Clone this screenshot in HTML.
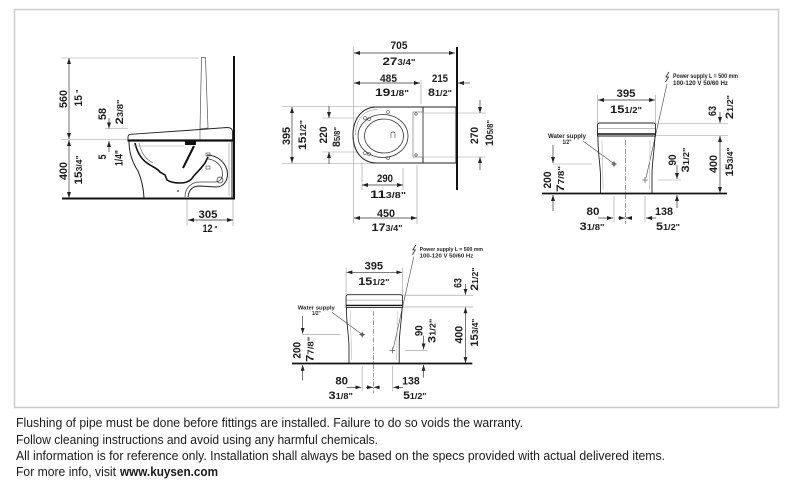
<!DOCTYPE html>
<html><head><meta charset="utf-8"><style>
html,body{margin:0;padding:0;background:#fff;}
svg{display:block;}
.e{stroke:#9a9a9a;stroke-width:0.6;fill:none}
.d{stroke:#333;stroke-width:0.7;fill:none;marker-start:url(#a);marker-end:url(#a)}
.de{stroke:#333;stroke-width:0.7;fill:none;marker-end:url(#a)}
.t{font-family:"Liberation Sans",Arial,sans-serif;font-weight:bold;font-size:11px;fill:#1c1c1c}
.s{font-family:"Liberation Sans",Arial,sans-serif;font-weight:bold;font-size:6px;fill:#222}
.b{font-family:"Liberation Sans",Arial,sans-serif;font-size:13px;fill:#1a1a1a}
</style></head><body>
<svg width="788" height="484" viewBox="0 0 788 484" xmlns="http://www.w3.org/2000/svg">
<defs>
<marker id="a" viewBox="0 0 6 4" refX="6" refY="2" markerWidth="6" markerHeight="4" markerUnits="userSpaceOnUse" orient="auto-start-reverse"><path d="M0,0L6,2L0,4z" fill="#222"/></marker>
</defs>
<rect x="14.5" y="9.5" width="764" height="398" fill="none" stroke="#cbcbcb" stroke-width="1.5"/>

<!-- ============ SIDE VIEW ============ -->
<path class="e" d="M61,58H199M61,139.5H128M187,199V226M233,199V226M102,139.5H128M105,128.5H128"/>
<path d="M201.5,57.5L205.5,57.5L208,128L200,129Z" fill="#fff" stroke="#555" stroke-width="0.7"/>
<path d="M128,140V137Q128,134.5 131,134.3L200,129.5L227,127.5Q232,127.5 232.5,131V140" fill="#fff" stroke="#222" stroke-width="0.9"/>
<path d="M200,129.5V139.5" stroke="#555" stroke-width="0.6"/>
<path d="M127.5,140.5H233.5" stroke="#111" stroke-width="2.2"/>
<path d="M129,141C129,152 132,162 138,171C141,178 143.5,187 144,198" fill="none" stroke="#222" stroke-width="1"/>
<path d="M232,141V198" stroke="#222" stroke-width="1"/>
<path d="M229,143V196" stroke="#999" stroke-width="0.6"/>
<path d="M135,143C137,152 141,160 150,165C155,168 158,169 160,172L165,175L167,180C170,182 175,183 180,183C185,183 190,182 193,177C196,173 200,170 205,163L208,157" fill="none" stroke="#111" stroke-width="1.6"/>
<path d="M139,143C141,152 145,159 153,163" stroke="#666" stroke-width="0.6" fill="none"/>
<rect x="185" y="141" width="11" height="4" fill="#111"/>
<path d="M194,146L189,156L183,168" stroke="#111" stroke-width="2" fill="none"/>
<path d="M207,155C215,155 224,160 227,170C229,180 224,187 216,187L200,186C193,186 189,189 188,197" fill="none" stroke="#222" stroke-width="1"/>
<path d="M207,159C213,159 220,163 222,170C224,178 220,182 215,182L200,182C191,182 185,188 185,197" fill="none" stroke="#444" stroke-width="0.8"/>
<rect x="206" y="153" width="4" height="3" fill="none" stroke="#444" stroke-width="0.6"/>
<rect x="206" y="166" width="4" height="3" fill="none" stroke="#444" stroke-width="0.6"/>
<circle cx="220" cy="180" r="3" fill="none" stroke="#333" stroke-width="0.7"/>
<circle cx="178" cy="191" r="1" fill="#555"/>
<path class="e" d="M133,146H184"/>
<path d="M62,198.5H235" stroke="#111" stroke-width="2"/>
<path d="M234,56V199" stroke="#111" stroke-width="2"/>
<path class="d" d="M69,58V139"/>
<path class="d" d="M69,140V198"/>
<path class="de" d="M109,118V128.5"/>
<path class="de" d="M109,152V141"/>
<path class="d" d="M188,220H233"/>

<text class="t" transform="translate(63,99) rotate(-90)" y="4" text-anchor="middle" textLength="18" lengthAdjust="spacingAndGlyphs">560</text>
<text class="t" transform="translate(78,98) rotate(-90)" y="4" text-anchor="middle" textLength="17" lengthAdjust="spacingAndGlyphs">15<tspan font-size="8"> "</tspan></text>
<text class="t" transform="translate(63,171) rotate(-90)" y="4" text-anchor="middle" textLength="18" lengthAdjust="spacingAndGlyphs">400</text>
<text class="t" transform="translate(78,170) rotate(-90)" y="4" text-anchor="middle" textLength="29" lengthAdjust="spacingAndGlyphs">15<tspan font-size="8">3/4"</tspan></text>
<text class="t" transform="translate(102,114) rotate(-90)" y="4" text-anchor="middle" textLength="12" lengthAdjust="spacingAndGlyphs">58</text>
<text class="t" transform="translate(119,112) rotate(-90)" y="4" text-anchor="middle" textLength="25" lengthAdjust="spacingAndGlyphs">2<tspan font-size="8">3/8"</tspan></text>
<text class="t" transform="translate(102,157) rotate(-90)" y="4" text-anchor="middle" textLength="5" lengthAdjust="spacingAndGlyphs">5</text>
<text class="t" transform="translate(119,158) rotate(-90)" y="3.5" text-anchor="middle" font-size="9" textLength="16" lengthAdjust="spacingAndGlyphs">1/4"</text>
<text class="t" x="208" y="218" text-anchor="middle" textLength="19" lengthAdjust="spacingAndGlyphs">305</text>
<text class="t" x="210" y="232" text-anchor="middle" textLength="15" lengthAdjust="spacingAndGlyphs">12<tspan font-size="8"> "</tspan></text>

<!-- ============ TOP VIEW ============ -->
<path class="e" d="M353.5,47V223M421,80V104M282,106.5H375M282,163.5H375M322,118H372M322,152H372M455,113H486M455,157H486M362,163V190M403,168V190M417,165V224"/>
<path d="M423,107H376C361,107.5 353,120 353,135C353,150 361,162.5 376,163H423" fill="#fff" stroke="#222" stroke-width="1"/>
<path d="M355.5,135C355.5,121 363,109.5 377,109.5" fill="none" stroke="#777" stroke-width="0.5"/>
<rect x="423" y="107" width="33" height="56" fill="#fff" stroke="#222" stroke-width="1"/>
<path class="e" d="M423,113H455M423,157H455"/>
<rect x="413" y="112" width="10" height="45" fill="none" stroke="#666" stroke-width="0.6"/>
<ellipse cx="383" cy="136" rx="25" ry="21.5" fill="none" stroke="#333" stroke-width="0.8"/>
<ellipse cx="384" cy="136" rx="19.5" ry="17" fill="none" stroke="#333" stroke-width="0.8"/>
<g fill="none" stroke="#444" stroke-width="0.6">
<circle cx="388" cy="112" r="1.5"/><circle cx="388" cy="158" r="1.5"/>
<circle cx="365" cy="118" r="1.5"/><circle cx="369" cy="119" r="1.5"/>
<circle cx="365" cy="153" r="1.5"/><circle cx="369" cy="154" r="1.5"/>
<circle cx="416" cy="114" r="1.2"/><circle cx="416" cy="155" r="1.2"/>
<path d="M391,138V133Q393,131 395,133V138"/>
</g>
<path d="M457,47V190" stroke="#111" stroke-width="2"/>
<path class="d" d="M354,53H455"/>
<path class="d" d="M354,83H420"/>
<path class="de" d="M470,83H458"/>
<path class="d" d="M292,107V163"/>
<path class="de" d="M329,106V118"/>
<path class="de" d="M329,164V152"/>
<path class="de" d="M480,100V113"/>
<path class="de" d="M480,170V157"/>
<path class="d" d="M362,185H403"/>
<path class="d" d="M354,218H417"/>

<text class="t" x="399" y="49" text-anchor="middle" textLength="17" lengthAdjust="spacingAndGlyphs">705</text>
<text class="t" x="399" y="65" text-anchor="middle" textLength="33" lengthAdjust="spacingAndGlyphs">27<tspan font-size="8">3/4"</tspan></text>
<text class="t" x="388.5" y="82" text-anchor="middle" textLength="17" lengthAdjust="spacingAndGlyphs">485</text>
<text class="t" x="392" y="96" text-anchor="middle" textLength="34" lengthAdjust="spacingAndGlyphs">19<tspan font-size="8">1/8"</tspan></text>
<text class="t" x="440" y="82" text-anchor="middle" textLength="16" lengthAdjust="spacingAndGlyphs">215</text>
<text class="t" x="440" y="96" text-anchor="middle" textLength="24" lengthAdjust="spacingAndGlyphs">8<tspan font-size="8">1/2"</tspan></text>
<text class="t" x="385" y="182" text-anchor="middle" textLength="16" lengthAdjust="spacingAndGlyphs">290</text>
<text class="t" x="388" y="198" text-anchor="middle" textLength="36" lengthAdjust="spacingAndGlyphs">11<tspan font-size="8">3/8"</tspan></text>
<text class="t" x="386" y="217" text-anchor="middle" textLength="18" lengthAdjust="spacingAndGlyphs">450</text>
<text class="t" x="387" y="231" text-anchor="middle" textLength="31" lengthAdjust="spacingAndGlyphs">17<tspan font-size="8">3/4"</tspan></text>
<text class="t" transform="translate(286,136) rotate(-90)" y="4" text-anchor="middle" textLength="18" lengthAdjust="spacingAndGlyphs">395</text>
<text class="t" transform="translate(302,135) rotate(-90)" y="4" text-anchor="middle" textLength="30" lengthAdjust="spacingAndGlyphs">15<tspan font-size="8">1/2"</tspan></text>
<text class="t" transform="translate(323,135) rotate(-90)" y="4" text-anchor="middle" textLength="17" lengthAdjust="spacingAndGlyphs">220</text>
<text class="t" transform="translate(336,137) rotate(-90)" y="4" text-anchor="middle" textLength="20" lengthAdjust="spacingAndGlyphs">8<tspan font-size="8">5/8"</tspan></text>
<text class="t" transform="translate(474,135.5) rotate(-90)" y="4" text-anchor="middle" textLength="17" lengthAdjust="spacingAndGlyphs">270</text>
<text class="t" transform="translate(489,133) rotate(-90)" y="4" text-anchor="middle" textLength="26" lengthAdjust="spacingAndGlyphs">10<tspan font-size="8">5/8"</tspan></text>

<!-- ============ FRONT VIEW (right) ============ -->
<g>
<polyline points="669,72 666,77 668.5,77 665.5,82" fill="none" stroke="#222" stroke-width="0.8"/>
<text class="s" x="673" y="78" textLength="65" lengthAdjust="spacingAndGlyphs">Power supply L = 500 mm</text>
<text class="s" x="673" y="85" textLength="55" lengthAdjust="spacingAndGlyphs">100-120 V  50/60 Hz</text>
<path d="M667,84L646,178" stroke="#444" stroke-width="0.6"/>
<text class="s" x="567" y="138" text-anchor="middle" textLength="38" lengthAdjust="spacingAndGlyphs">Water supply</text>
<text class="s" x="567" y="144" text-anchor="middle" textLength="9" lengthAdjust="spacingAndGlyphs">1/2"</text>
<path d="M583,141L613,163" stroke="#444" stroke-width="0.6"/>
<path class="e" d="M597.5,95V123M655.5,95V123M553,164H592M658,180H681M656,123.5H728M656,135.5H728M614,196V222M645,196V222"/>
<path d="M597.5,136V125Q597.5,123 600,123H653Q655.5,123 655.5,125V136Z" fill="#fff" stroke="#222" stroke-width="0.9"/>
<path d="M598,128.5H655" stroke="#777" stroke-width="0.5"/>
<path d="M597.5,134H655.5" stroke="#111" stroke-width="1.4"/>
<path d="M598,136C597.5,150 600,162 600.5,175V193" fill="none" stroke="#222" stroke-width="0.9"/>
<path d="M655,136C654.5,150 652,162 652,175V193" fill="none" stroke="#222" stroke-width="0.9"/>
<path d="M602,140C602,160 603,170 603,190M650,140C650,160 649.5,170 649.5,190" fill="none" stroke="#aaa" stroke-width="0.5"/>
<path d="M625.5,140V224" stroke="#555" stroke-width="0.6" stroke-dasharray="5,1.5,1,1.5"/>
<path d="M611,164H617M614,161V167M642,180H648M645,177V183" stroke="#333" stroke-width="0.6"/>
<circle cx="614" cy="164" r="1.3" fill="none" stroke="#333" stroke-width="0.6"/>
<path d="M542,193.5H727" stroke="#111" stroke-width="1.8"/>
<path class="d" d="M598,100H655"/>
<path class="de" d="M553,145V163"/>
<path class="de" d="M553,211V195"/>
<path class="de" d="M677,165V179"/>
<path class="de" d="M677,208V195"/>
<path class="d" d="M720,136V193"/>
<path class="de" d="M720,112V123"/>
<path class="de" d="M598,218H613"/>
<path class="de" d="M632,218H626"/>
<path class="de" d="M618,218H625"/>
<path class="de" d="M656,218H646"/>
<text class="t" x="626" y="97" text-anchor="middle" textLength="19" lengthAdjust="spacingAndGlyphs">395</text>
<text class="t" x="626" y="113" text-anchor="middle" textLength="32" lengthAdjust="spacingAndGlyphs">15<tspan font-size="8">1/2"</tspan></text>
<text class="t" transform="translate(712,111) rotate(-90)" y="4" text-anchor="middle" textLength="10" lengthAdjust="spacingAndGlyphs">63</text>
<text class="t" transform="translate(729,107) rotate(-90)" y="4" text-anchor="middle" textLength="24" lengthAdjust="spacingAndGlyphs">2<tspan font-size="8">1/2"</tspan></text>
<text class="t" transform="translate(713,164) rotate(-90)" y="4" text-anchor="middle" textLength="18" lengthAdjust="spacingAndGlyphs">400</text>
<text class="t" transform="translate(729,162) rotate(-90)" y="4" text-anchor="middle" textLength="29" lengthAdjust="spacingAndGlyphs">15<tspan font-size="8">3/4"</tspan></text>
<text class="t" transform="translate(672,160) rotate(-90)" y="4" text-anchor="middle" textLength="11" lengthAdjust="spacingAndGlyphs">90</text>
<text class="t" transform="translate(685,160) rotate(-90)" y="4" text-anchor="middle" textLength="25" lengthAdjust="spacingAndGlyphs">3<tspan font-size="8">1/2"</tspan></text>
<text class="t" transform="translate(547,180) rotate(-90)" y="4" text-anchor="middle" textLength="17" lengthAdjust="spacingAndGlyphs">200</text>
<text class="t" transform="translate(560,179) rotate(-90)" y="4" text-anchor="middle" textLength="26" lengthAdjust="spacingAndGlyphs">7<tspan font-size="8">7/8"</tspan></text>
<text class="t" x="593" y="215" text-anchor="middle" textLength="13" lengthAdjust="spacingAndGlyphs">80</text>
<text class="t" x="592" y="230" text-anchor="middle" textLength="25" lengthAdjust="spacingAndGlyphs">3<tspan font-size="8">1/8"</tspan></text>
<text class="t" x="664" y="215" text-anchor="middle" textLength="18" lengthAdjust="spacingAndGlyphs">138</text>
<text class="t" x="668" y="230" text-anchor="middle" textLength="24" lengthAdjust="spacingAndGlyphs">5<tspan font-size="8">1/2"</tspan></text>
</g>

<!-- ============ FRONT VIEW (bottom) ============ -->
<g transform="matrix(0.975 0 0 0.975 -236.5 174.8)">
<polyline points="669,72 666,77 668.5,77 665.5,82" fill="none" stroke="#222" stroke-width="0.8"/>
<text class="s" x="673" y="78" textLength="65" lengthAdjust="spacingAndGlyphs">Power supply L = 500 mm</text>
<text class="s" x="673" y="85" textLength="55" lengthAdjust="spacingAndGlyphs">100-120 V  50/60 Hz</text>
<path d="M667,84L646,178" stroke="#444" stroke-width="0.6"/>
<text class="s" x="567" y="138" text-anchor="middle" textLength="38" lengthAdjust="spacingAndGlyphs">Water supply</text>
<text class="s" x="567" y="144" text-anchor="middle" textLength="9" lengthAdjust="spacingAndGlyphs">1/2"</text>
<path d="M583,141L613,163" stroke="#444" stroke-width="0.6"/>
<path class="e" d="M597.5,95V123M655.5,95V123M553,164H592M658,180H681M656,123.5H728M656,135.5H728M614,196V222M645,196V222"/>
<path d="M597.5,136V125Q597.5,123 600,123H653Q655.5,123 655.5,125V136Z" fill="#fff" stroke="#222" stroke-width="0.9"/>
<path d="M598,128.5H655" stroke="#777" stroke-width="0.5"/>
<path d="M597.5,134H655.5" stroke="#111" stroke-width="1.4"/>
<path d="M598,136C597.5,150 600,162 600.5,175V193" fill="none" stroke="#222" stroke-width="0.9"/>
<path d="M655,136C654.5,150 652,162 652,175V193" fill="none" stroke="#222" stroke-width="0.9"/>
<path d="M602,140C602,160 603,170 603,190M650,140C650,160 649.5,170 649.5,190" fill="none" stroke="#aaa" stroke-width="0.5"/>
<path d="M625.5,140V224" stroke="#555" stroke-width="0.6" stroke-dasharray="5,1.5,1,1.5"/>
<path d="M611,164H617M614,161V167M642,180H648M645,177V183" stroke="#333" stroke-width="0.6"/>
<circle cx="614" cy="164" r="1.3" fill="none" stroke="#333" stroke-width="0.6"/>
<path d="M542,193.5H727" stroke="#111" stroke-width="1.8"/>
<path class="d" d="M598,100H655"/>
<path class="de" d="M553,145V163"/>
<path class="de" d="M553,211V195"/>
<path class="de" d="M677,165V179"/>
<path class="de" d="M677,208V195"/>
<path class="d" d="M720,136V193"/>
<path class="de" d="M720,112V123"/>
<path class="de" d="M598,218H613"/>
<path class="de" d="M632,218H626"/>
<path class="de" d="M618,218H625"/>
<path class="de" d="M656,218H646"/>
<text class="t" x="626" y="97" text-anchor="middle" textLength="19" lengthAdjust="spacingAndGlyphs">395</text>
<text class="t" x="626" y="113" text-anchor="middle" textLength="32" lengthAdjust="spacingAndGlyphs">15<tspan font-size="8">1/2"</tspan></text>
<text class="t" transform="translate(712,111) rotate(-90)" y="4" text-anchor="middle" textLength="10" lengthAdjust="spacingAndGlyphs">63</text>
<text class="t" transform="translate(729,107) rotate(-90)" y="4" text-anchor="middle" textLength="24" lengthAdjust="spacingAndGlyphs">2<tspan font-size="8">1/2"</tspan></text>
<text class="t" transform="translate(713,164) rotate(-90)" y="4" text-anchor="middle" textLength="18" lengthAdjust="spacingAndGlyphs">400</text>
<text class="t" transform="translate(729,162) rotate(-90)" y="4" text-anchor="middle" textLength="29" lengthAdjust="spacingAndGlyphs">15<tspan font-size="8">3/4"</tspan></text>
<text class="t" transform="translate(672,160) rotate(-90)" y="4" text-anchor="middle" textLength="11" lengthAdjust="spacingAndGlyphs">90</text>
<text class="t" transform="translate(685,160) rotate(-90)" y="4" text-anchor="middle" textLength="25" lengthAdjust="spacingAndGlyphs">3<tspan font-size="8">1/2"</tspan></text>
<text class="t" transform="translate(547,180) rotate(-90)" y="4" text-anchor="middle" textLength="17" lengthAdjust="spacingAndGlyphs">200</text>
<text class="t" transform="translate(560,179) rotate(-90)" y="4" text-anchor="middle" textLength="26" lengthAdjust="spacingAndGlyphs">7<tspan font-size="8">7/8"</tspan></text>
<text class="t" x="593" y="215" text-anchor="middle" textLength="13" lengthAdjust="spacingAndGlyphs">80</text>
<text class="t" x="592" y="230" text-anchor="middle" textLength="25" lengthAdjust="spacingAndGlyphs">3<tspan font-size="8">1/8"</tspan></text>
<text class="t" x="664" y="215" text-anchor="middle" textLength="18" lengthAdjust="spacingAndGlyphs">138</text>
<text class="t" x="668" y="230" text-anchor="middle" textLength="24" lengthAdjust="spacingAndGlyphs">5<tspan font-size="8">1/2"</tspan></text>
</g>

<!-- ============ NOTES ============ -->
<text class="b" x="16" y="427" textLength="507" lengthAdjust="spacingAndGlyphs">Flushing of pipe must be done before fittings are installed. Failure to do so voids the warranty.</text>
<text class="b" x="16" y="444" textLength="362" lengthAdjust="spacingAndGlyphs">Follow cleaning instructions and avoid using any harmful chemicals.</text>
<text class="b" x="16" y="460" textLength="649" lengthAdjust="spacingAndGlyphs">All information is for reference only. Installation shall always be based on the specs provided with actual delivered items.</text>
<text class="b" x="16" y="476" textLength="100" lengthAdjust="spacingAndGlyphs">For more info, visit</text>
<text class="b" x="120" y="476" font-weight="bold" textLength="98" lengthAdjust="spacingAndGlyphs">www.kuysen.com</text>
</svg>
</body></html>
